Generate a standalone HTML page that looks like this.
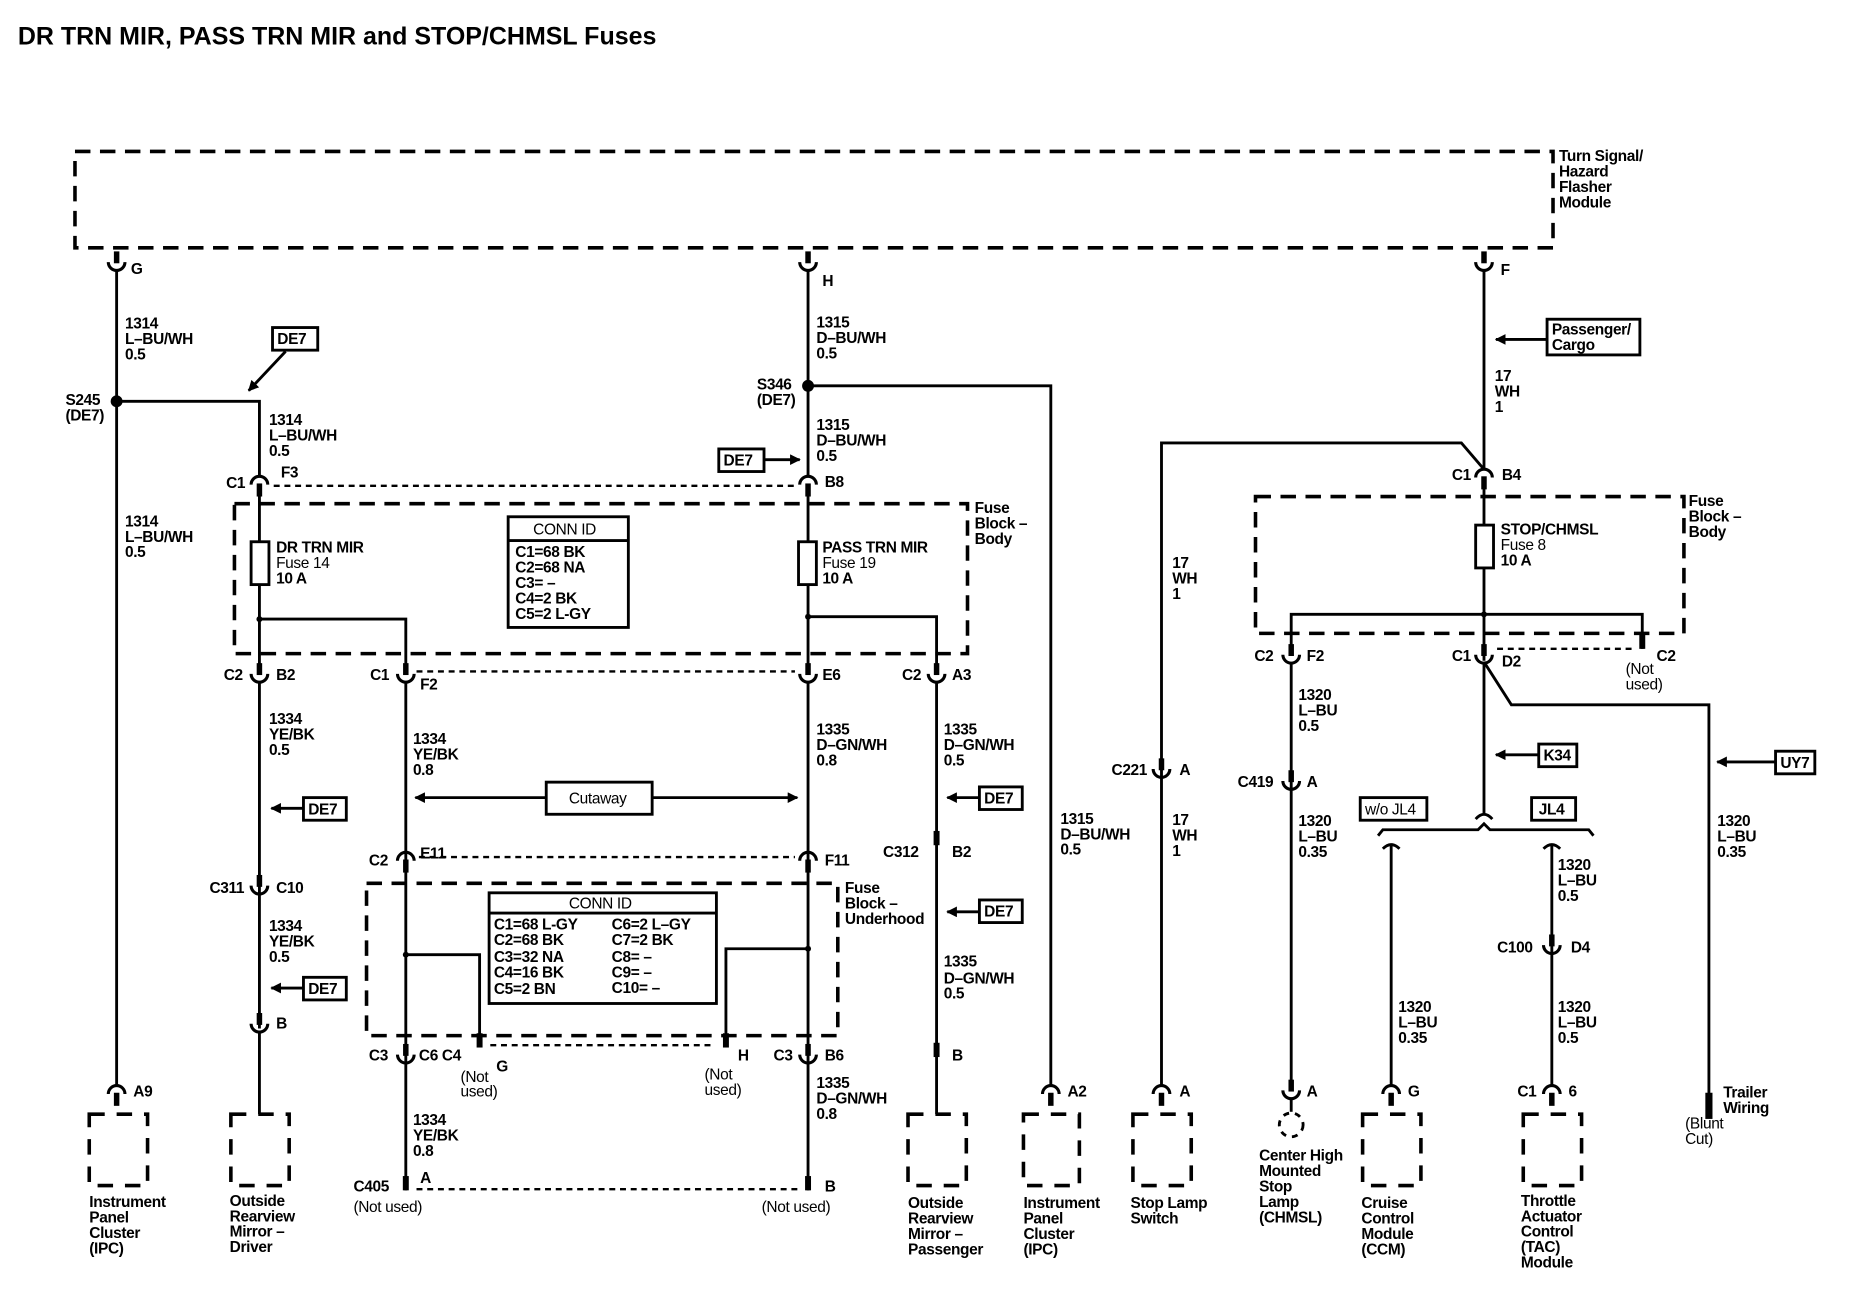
<!DOCTYPE html>
<html><head><meta charset="utf-8"><style>
html,body{margin:0;padding:0;background:#fff;width:1866px;height:1312px;overflow:hidden}
svg{display:block}
text{font-family:"Liberation Sans",Arial,sans-serif;font-weight:bold;font-size:13px;fill:#000;letter-spacing:-0.3px}
.w{stroke:#000;stroke-width:2.4;fill:none}
.d{stroke:#000;stroke-width:3;fill:none;stroke-dasharray:13 8}
.dt{stroke:#000;stroke-width:2;fill:none;stroke-dasharray:5 4}
.cb{stroke:#000;stroke-width:3;fill:none;stroke-dasharray:13 10}
.bx{stroke:#000;stroke-width:2.4;fill:#fff}
</style></head><body>
<svg width="1866" height="1312" viewBox="0 0 1568 1102" xmlns="http://www.w3.org/2000/svg">
<defs>
<g id="cu"><rect x="-2.3" y="-15" width="4.6" height="10" fill="#000"/><path d="M-7,-6 A7,7 0 0 0 7,-6" class="w" style="stroke-width:2.6"/></g>
<g id="cn"><path d="M-7,7 A7,7 0 0 1 7,7" class="w" style="stroke-width:2.6"/><rect x="-2.3" y="6" width="4.6" height="11" fill="#000"/></g>
<marker id="ar" viewBox="0 0 10 10" refX="9" refY="5" markerWidth="9" markerHeight="9" orient="auto" markerUnits="userSpaceOnUse"><path d="M0,0 L10,5 L0,10 z" fill="#000"/></marker>
</defs>

<text x="15" y="37" style="font-size:21px;letter-spacing:0">DR TRN MIR, PASS TRN MIR and STOP/CHMSL Fuses</text>

<!-- top module -->
<rect x="63" y="127" width="1242" height="81" class="d"/>
<text x="1310" y="135">Turn Signal/</text><text x="1310" y="148">Hazard</text><text x="1310" y="161">Flasher</text><text x="1310" y="174">Module</text>

<!-- column x=98 -->
<use href="#cu" x="98" y="226"/>
<text x="110" y="230">G</text>
<line x1="98" y1="226" x2="98" y2="912" class="w"/>
<circle cx="98" cy="337" r="5" fill="#000"/>
<polyline points="98,337 218,337 218,400" class="w"/>
<text x="105" y="276">1314</text><text x="105" y="289">L–BU/WH</text><text x="105" y="302">0.5</text>
<text x="55" y="340">S245</text><text x="55" y="353">(DE7)</text>
<text x="105" y="442">1314</text><text x="105" y="455">L–BU/WH</text><text x="105" y="468">0.5</text>
<rect x="229" y="275" width="38" height="19" class="bx"/><text x="233" y="289">DE7</text>
<line x1="240" y1="295" x2="209" y2="328" class="w" marker-end="url(#ar)"/>
<text x="226" y="357">1314</text><text x="226" y="370">L–BU/WH</text><text x="226" y="383">0.5</text>

<!-- fuse block body left -->
<use href="#cn" x="218" y="400"/>
<text x="190" y="410">C1</text><text x="236" y="401">F3</text>
<line x1="230" y1="408" x2="668" y2="408" class="dt"/>
<use href="#cn" x="679" y="400"/>
<text x="693" y="409">B8</text>
<rect x="197" y="423" width="616" height="126" class="d"/>
<text x="819" y="431">Fuse</text><text x="819" y="444">Block –</text><text x="819" y="457">Body</text>
<line x1="218" y1="415" x2="218" y2="560" class="w"/>
<rect x="211" y="455" width="15" height="36" class="bx"/>
<text x="232" y="464">DR TRN MIR</text><text x="232" y="477" style="font-weight:normal">Fuse 14</text><text x="232" y="490">10 A</text>
<circle cx="218" cy="520" r="2.5" fill="#000"/>
<polyline points="218,520 341,520 341,560" class="w"/>
<rect x="427" y="434" width="101" height="93" class="bx"/>
<line x1="427" y1="454" x2="528" y2="454" class="w"/>
<text x="448" y="449" style="font-weight:normal">CONN ID</text>
<text x="433" y="468">C1=68 BK</text><text x="433" y="481">C2=68 NA</text><text x="433" y="494">C3= –</text><text x="433" y="507">C4=2 BK</text><text x="433" y="520">C5=2 L-GY</text>

<!-- column 679 -->
<use href="#cu" x="679" y="226"/>
<text x="691" y="240">H</text>
<line x1="679" y1="226" x2="679" y2="400" class="w"/>
<circle cx="679" cy="324" r="5" fill="#000"/>
<polyline points="679,324 883,324 883,912" class="w"/>
<text x="686" y="275">1315</text><text x="686" y="288">D–BU/WH</text><text x="686" y="301">0.5</text>
<text x="636" y="327">S346</text><text x="636" y="340">(DE7)</text>
<text x="686" y="361">1315</text><text x="686" y="374">D–BU/WH</text><text x="686" y="387">0.5</text>
<rect x="604" y="377" width="38" height="19" class="bx"/><text x="608" y="391">DE7</text>
<line x1="642" y1="386" x2="672" y2="386" class="w" marker-end="url(#ar)"/>
<line x1="679" y1="415" x2="679" y2="560" class="w"/>
<rect x="671" y="455" width="15" height="36" class="bx"/>
<text x="691" y="464">PASS TRN MIR</text><text x="691" y="477" style="font-weight:normal">Fuse 19</text><text x="691" y="490">10 A</text>
<circle cx="679" cy="518" r="2.5" fill="#000"/>
<polyline points="679,518 787,518 787,560" class="w"/>

<!-- row 567 -->
<use href="#cu" x="218" y="572"/><text x="188" y="571">C2</text><text x="232" y="571">B2</text>
<use href="#cu" x="341" y="572"/><text x="311" y="571">C1</text><text x="353" y="579">F2</text>
<line x1="350" y1="564" x2="668" y2="564" class="dt"/>
<use href="#cu" x="679" y="572"/><text x="691" y="571">E6</text>
<use href="#cu" x="787" y="572"/><text x="758" y="571">C2</text><text x="800" y="571">A3</text>

<!-- x=218 down -->
<line x1="218" y1="572" x2="218" y2="864" class="w"/>
<text x="226" y="608">1334</text><text x="226" y="621">YE/BK</text><text x="226" y="634">0.5</text>
<rect x="255" y="670" width="36" height="19" class="bx"/><text x="259" y="684">DE7</text>
<line x1="255" y1="679" x2="228" y2="679" class="w" marker-end="url(#ar)"/>
<use href="#cu" x="218" y="750"/><text x="176" y="750">C311</text><text x="232" y="750">C10</text>
<text x="226" y="782">1334</text><text x="226" y="795">YE/BK</text><text x="226" y="808">0.5</text>
<rect x="255" y="821" width="36" height="19" class="bx"/><text x="259" y="835">DE7</text>
<line x1="255" y1="830" x2="228" y2="830" class="w" marker-end="url(#ar)"/>
<use href="#cu" x="218" y="866"/><text x="232" y="864">B</text>

<!-- x=341 -->
<line x1="341" y1="572" x2="341" y2="1000" class="w"/>
<text x="347" y="625">1334</text><text x="347" y="638">YE/BK</text><text x="347" y="651">0.8</text>
<rect x="459" y="657" width="89" height="27" class="bx"/><text x="478" y="675" style="font-weight:normal">Cutaway</text>
<line x1="459" y1="670" x2="349" y2="670" class="w" marker-end="url(#ar)"/>
<line x1="548" y1="670" x2="670" y2="670" class="w" marker-end="url(#ar)"/>

<!-- x=679 -->
<line x1="679" y1="572" x2="679" y2="1000" class="w"/>
<text x="686" y="617">1335</text><text x="686" y="630">D–GN/WH</text><text x="686" y="643">0.8</text>

<!-- x=787 -->
<line x1="787" y1="572" x2="787" y2="936" class="w"/>
<text x="793" y="617">1335</text><text x="793" y="630">D–GN/WH</text><text x="793" y="643">0.5</text>
<rect x="823" y="661" width="36" height="19" class="bx"/><text x="827" y="675">DE7</text>
<line x1="823" y1="670" x2="796" y2="670" class="w" marker-end="url(#ar)"/>
<rect x="784.5" y="698" width="5" height="12" fill="#000"/>
<text x="742" y="720">C312</text><text x="800" y="720">B2</text>
<rect x="823" y="756" width="36" height="19" class="bx"/><text x="827" y="770">DE7</text>
<line x1="823" y1="766" x2="796" y2="766" class="w" marker-end="url(#ar)"/>
<text x="793" y="812">1335</text><text x="793" y="826">D–GN/WH</text><text x="793" y="839">0.5</text>
<rect x="784.5" y="876" width="5" height="12" fill="#000"/><text x="800" y="891">B</text>

<!-- row 723 underhood -->
<use href="#cn" x="341" y="716"/><text x="310" y="727">C2</text><text x="353" y="721">E11</text>
<use href="#cn" x="679" y="716"/><text x="693" y="727">F11</text>
<line x1="352" y1="720" x2="668" y2="720" class="dt"/>
<rect x="308" y="742" width="396" height="128" class="d"/>
<text x="710" y="750">Fuse</text><text x="710" y="763">Block –</text><text x="710" y="776">Underhood</text>
<rect x="411" y="750" width="191" height="93" class="bx"/>
<line x1="411" y1="767" x2="602" y2="767" class="w"/>
<text x="478" y="763" style="font-weight:normal">CONN ID</text>
<text x="415" y="781">C1=68 L-GY</text><text x="415" y="794">C2=68 BK</text><text x="415" y="808">C3=32 NA</text><text x="415" y="821">C4=16 BK</text><text x="415" y="835">C5=2 BN</text>
<text x="514" y="781">C6=2 L–GY</text><text x="514" y="794">C7=2 BK</text><text x="514" y="808">C8= –</text><text x="514" y="821">C9= –</text><text x="514" y="834">C10= –</text>
<circle cx="341" cy="802" r="2.5" fill="#000"/>
<polyline points="341,802 403,802 403,878" class="w"/>
<rect x="400.5" y="868" width="5" height="12" fill="#000"/>
<circle cx="679" cy="797" r="2.5" fill="#000"/>
<polyline points="679,797 610,797 610,878" class="w"/>
<rect x="607.5" y="868" width="5" height="12" fill="#000"/>
<line x1="412" y1="878" x2="600" y2="878" class="dt"/>
<use href="#cu" x="341" y="892"/><text x="310" y="891">C3</text><text x="352" y="891">C6 C4</text>
<text x="417" y="900">G</text><text x="387" y="909" style="font-weight:normal">(Not</text><text x="387" y="921" style="font-weight:normal">used)</text>
<text x="620" y="891">H</text><text x="592" y="907" style="font-weight:normal">(Not</text><text x="592" y="920" style="font-weight:normal">used)</text>
<use href="#cu" x="679" y="892"/><text x="650" y="891">C3</text><text x="693" y="891">B6</text>
<text x="347" y="945">1334</text><text x="347" y="958">YE/BK</text><text x="347" y="971">0.8</text>
<text x="686" y="914">1335</text><text x="686" y="927">D–GN/WH</text><text x="686" y="940">0.8</text>
<rect x="338.5" y="988" width="5" height="12" fill="#000"/><rect x="676.5" y="988" width="5" height="12" fill="#000"/>
<line x1="350" y1="999" x2="670" y2="999" class="dt"/>
<text x="297" y="1001">C405</text><text x="353" y="994">A</text><text x="693" y="1001">B</text>
<text x="297" y="1018" style="font-weight:normal">(Not used)</text><text x="640" y="1018" style="font-weight:normal">(Not used)</text>

<text x="891" y="692">1315</text><text x="891" y="705">D–BU/WH</text><text x="891" y="718">0.5</text>

<!-- bottom components -->
<use href="#cn" x="98" y="912"/><text x="112" y="921">A9</text>
<rect x="75" y="936" width="49" height="60" class="cb"/>
<text x="75" y="1014">Instrument</text><text x="75" y="1027">Panel</text><text x="75" y="1040">Cluster</text><text x="75" y="1053">(IPC)</text>
<rect x="194" y="936" width="49" height="60" class="cb"/>
<line x1="218" y1="866" x2="218" y2="936" class="w"/>
<text x="193" y="1013">Outside</text><text x="193" y="1026">Rearview</text><text x="193" y="1039">Mirror –</text><text x="193" y="1052">Driver</text>
<rect x="763" y="936" width="49" height="60" class="cb"/>
<text x="763" y="1015">Outside</text><text x="763" y="1028">Rearview</text><text x="763" y="1041">Mirror –</text><text x="763" y="1054">Passenger</text>
<use href="#cn" x="883" y="912"/><text x="897" y="921">A2</text>
<rect x="860" y="936" width="47" height="60" class="cb"/>
<text x="860" y="1015">Instrument</text><text x="860" y="1028">Panel</text><text x="860" y="1041">Cluster</text><text x="860" y="1054">(IPC)</text>
<use href="#cn" x="976" y="912"/><text x="991" y="921">A</text>
<rect x="952" y="936" width="49" height="60" class="cb"/>
<text x="950" y="1015">Stop Lamp</text><text x="950" y="1028">Switch</text>

<!-- right section -->
<use href="#cu" x="1247" y="226"/><text x="1261" y="231">F</text>
<line x1="1247" y1="226" x2="1247" y2="393" class="w"/>
<rect x="1300" y="268" width="78" height="30" class="bx"/>
<text x="1304" y="281">Passenger/</text><text x="1304" y="294">Cargo</text>
<line x1="1300" y1="285" x2="1257" y2="285" class="w" marker-end="url(#ar)"/>
<text x="1256" y="320">17</text><text x="1256" y="333">WH</text><text x="1256" y="346">1</text>
<polyline points="976,912 976,372 1228,372 1246,393" class="w"/>
<text x="985" y="477">17</text><text x="985" y="490">WH</text><text x="985" y="503">1</text>
<use href="#cu" x="976" y="652"/><text x="934" y="651">C221</text><text x="991" y="651">A</text>
<text x="985" y="693">17</text><text x="985" y="706">WH</text><text x="985" y="719">1</text>
<use href="#cn" x="1247" y="394"/><text x="1220" y="403">C1</text><text x="1262" y="403">B4</text>
<rect x="1055" y="417" width="360" height="115" class="d"/>
<text x="1419" y="425">Fuse</text><text x="1419" y="438">Block –</text><text x="1419" y="451">Body</text>
<line x1="1247" y1="408" x2="1247" y2="555" class="w"/>
<rect x="1240" y="441" width="15" height="36" class="bx"/>
<text x="1261" y="449">STOP/CHMSL</text><text x="1261" y="462" style="font-weight:normal">Fuse 8</text><text x="1261" y="475">10 A</text>
<circle cx="1247" cy="516" r="2.5" fill="#000"/>
<polyline points="1085,548 1085,516 1380,516 1380,545" class="w"/>
<rect x="1377.5" y="533" width="5" height="12" fill="#000"/>
<line x1="1258" y1="545" x2="1375" y2="545" class="dt"/>
<use href="#cu" x="1085" y="556"/><text x="1054" y="555">C2</text><text x="1098" y="555">F2</text>
<use href="#cu" x="1247" y="556"/><text x="1220" y="555">C1</text><text x="1262" y="560">D2</text>
<text x="1366" y="566" style="font-weight:normal">(Not</text><text x="1366" y="579" style="font-weight:normal">used)</text><text x="1392" y="555">C2</text>
<line x1="1085" y1="556" x2="1085" y2="912" class="w"/>
<text x="1091" y="588">1320</text><text x="1091" y="601">L–BU</text><text x="1091" y="614">0.5</text>
<use href="#cu" x="1085" y="662"/><text x="1040" y="661">C419</text><text x="1098" y="661">A</text>
<text x="1091" y="694">1320</text><text x="1091" y="707">L–BU</text><text x="1091" y="720">0.35</text>
<use href="#cu" x="1085" y="922"/>
<line x1="1085" y1="922" x2="1085" y2="934" class="w"/>
<text x="1098" y="921">A</text>
<circle cx="1085" cy="945" r="10" fill="none" stroke="#000" stroke-width="2.4" stroke-dasharray="5 5"/>
<text x="1058" y="975">Center High</text><text x="1058" y="988">Mounted</text><text x="1058" y="1001">Stop</text><text x="1058" y="1014">Lamp</text><text x="1058" y="1027">(CHMSL)</text>

<polyline points="1247,556 1270,592 1436,592 1436,928" class="w"/>
<rect x="1433" y="918" width="6" height="22" fill="#000"/>
<text x="1448" y="922">Trailer</text><text x="1448" y="935">Wiring</text>
<text x="1416" y="948" style="font-weight:normal">(Blunt</text><text x="1416" y="961" style="font-weight:normal">Cut)</text>
<rect x="1492" y="631" width="33" height="19" class="bx"/><text x="1496" y="645">UY7</text>
<line x1="1492" y1="640" x2="1443" y2="640" class="w" marker-end="url(#ar)"/>
<text x="1443" y="694">1320</text><text x="1443" y="707">L–BU</text><text x="1443" y="720">0.35</text>

<line x1="1247" y1="556" x2="1247" y2="684" class="w"/>
<path d="M1240,688 Q1247,680 1254,688" class="w"/>
<rect x="1293" y="625" width="32" height="19" class="bx"/><text x="1297" y="639">K34</text>
<line x1="1293" y1="634" x2="1257" y2="634" class="w" marker-end="url(#ar)"/>
<rect x="1143" y="670" width="56" height="19" class="bx"/><text x="1147" y="684" style="font-weight:normal">w/o JL4</text>
<rect x="1287" y="670" width="37" height="19" class="bx"/><text x="1293" y="684">JL4</text>
<path d="M1158,702 L1162,697 L1242,697 L1247,692 L1252,697 L1335,697 L1339,702" class="w"/>
<path d="M1162,713 Q1169,706 1176,713" class="w"/>
<line x1="1169" y1="710" x2="1169" y2="912" class="w"/>
<path d="M1297,713 Q1304,706 1311,713" class="w"/>
<line x1="1304" y1="710" x2="1304" y2="912" class="w"/>
<text x="1309" y="731">1320</text><text x="1309" y="744">L–BU</text><text x="1309" y="757">0.5</text>
<use href="#cu" x="1304" y="800"/><text x="1258" y="800">C100</text><text x="1320" y="800">D4</text>
<text x="1175" y="850">1320</text><text x="1175" y="863">L–BU</text><text x="1175" y="876">0.35</text>
<text x="1309" y="850">1320</text><text x="1309" y="863">L–BU</text><text x="1309" y="876">0.5</text>
<use href="#cn" x="1169" y="912"/><text x="1183" y="921">G</text>
<rect x="1145" y="936" width="49" height="60" class="cb"/>
<text x="1144" y="1015">Cruise</text><text x="1144" y="1028">Control</text><text x="1144" y="1041">Module</text><text x="1144" y="1054">(CCM)</text>
<use href="#cn" x="1304" y="912"/><text x="1275" y="921">C1</text><text x="1318" y="921">6</text>
<rect x="1280" y="936" width="49" height="60" class="cb"/>
<text x="1278" y="1013">Throttle</text><text x="1278" y="1026">Actuator</text><text x="1278" y="1039">Control</text><text x="1278" y="1052">(TAC)</text><text x="1278" y="1065">Module</text>
</svg>
</body></html>
